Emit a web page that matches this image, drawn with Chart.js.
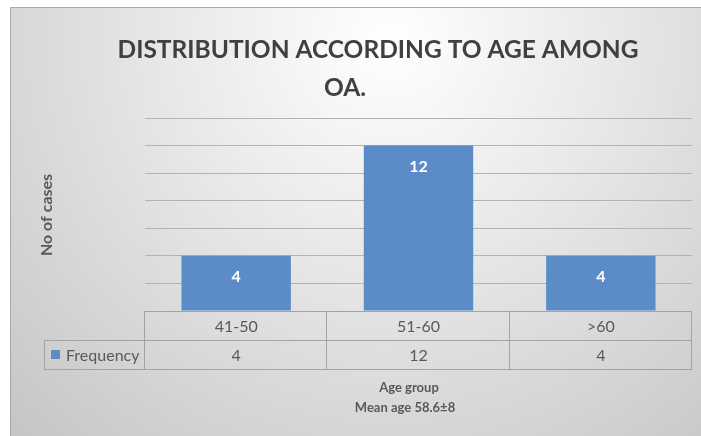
<!DOCTYPE html>
<html>
<head>
<meta charset="utf-8">
<script src="https://cdn.jsdelivr.net/npm/chart.js"></script>
<style>
  body { margin: 0; background: #fff; }
  #wrap { width: 701px; height: 436px; }
</style>
</head>
<body>
<div id="wrap"><canvas id="myChart" width="701" height="436"></canvas></div>
<script>
// data
const ageGroups = ['41-50', '51-60', '>60'];
const frequency = [4, 12, 4];
const seriesName = 'Frequency';
const titleLines = ['DISTRIBUTION ACCORDING TO AGE AMONG', 'OA.'];
const yTitle = 'No of cases';
const xTitles = ['Age group', 'Mean age 58.6\u00b18'];

const barColor = '#5b8cc8';
const textGray = '#595959';
const lineGray = '#a3a3a3';
const font = 'Lato, "Open Sans", sans-serif';

const decor = {
  id: 'decor',
  beforeDraw(chart) {
    const c = chart.ctx;
    c.save();
    c.fillStyle = '#fff';
    c.fillRect(0, 0, chart.width, chart.height);
    const g = c.createRadialGradient(390, 40, 0, 390, 40, 560);
    g.addColorStop(0, '#ffffff');
    g.addColorStop(0.35, '#ebebeb');
    g.addColorStop(1, '#c4c4c4');
    c.fillStyle = g;
    c.fillRect(10, 7, chart.width - 10, chart.height - 7);
    c.strokeStyle = '#a8a8a8';
    c.lineWidth = 1;
    c.beginPath();
    c.moveTo(10.5, chart.height);
    c.lineTo(10.5, 7.5);
    c.lineTo(chart.width, 7.5);
    c.stroke();
    c.restore();
  },
  afterDatasetsDraw(chart) {
    const c = chart.ctx;
    const meta = chart.getDatasetMeta(0);
    c.save();
    c.fillStyle = '#fff';
    c.font = 'bold 16px ' + font;
    c.textAlign = 'center';
    c.textBaseline = 'middle';
    meta.data.forEach(function (bar, i) {
      c.fillText(frequency[i], bar.x, bar.y + 21);
    });
    c.restore();
  },
  afterDraw(chart) {
    const c = chart.ctx;
    const area = chart.chartArea;
    const xs = chart.scales.x;
    const colW = (area.right - area.left) / ageGroups.length;
    const top = area.bottom;
    const rowH = 29;
    const legLeft = 44;

    c.save();
    // table lines
    c.strokeStyle = lineGray;
    c.lineWidth = 1;
    c.beginPath();
    c.moveTo(area.left, top + 0.5);
    c.lineTo(area.right, top + 0.5);
    c.moveTo(legLeft, top + rowH + 0.5);
    c.lineTo(area.right, top + rowH + 0.5);
    c.moveTo(legLeft, top + 2 * rowH + 0.5);
    c.lineTo(area.right, top + 2 * rowH + 0.5);
    c.moveTo(legLeft + 0.5, top + rowH);
    c.lineTo(legLeft + 0.5, top + 2 * rowH);
    for (let i = 0; i <= ageGroups.length; i++) {
      const x = Math.round(area.left + i * colW) - 0.5;
      c.moveTo(x, top);
      c.lineTo(x, top + 2 * rowH);
    }
    c.stroke();

    // table text
    c.fillStyle = textGray;
    c.font = '16px ' + font;
    c.textAlign = 'center';
    c.textBaseline = 'middle';
    ageGroups.forEach(function (lab, i) {
      const x = xs.getPixelForValue(i);
      c.fillText(lab, x, top + rowH / 2 + 1);
      c.fillText(frequency[i], x, top + rowH * 1.5 + 1);
    });
    c.fillStyle = barColor;
    c.fillRect(51, top + rowH + 10, 9, 9);
    c.fillStyle = textGray;
    c.textAlign = 'left';
    c.fillText(seriesName, 66, top + rowH * 1.5 + 1);

    // chart title
    c.fillStyle = '#404040';
    c.font = 'bold 24.5px ' + font;
    c.textAlign = 'center';
    c.fillText(titleLines[0], 378, 50);
    c.fillText(titleLines[1], 345, 88);

    // axis titles
    c.fillStyle = textGray;
    c.font = 'bold 13px ' + font;
    c.fillText(xTitles[0], 409, 388);
    c.fillText(xTitles[1], 405, 408);

    c.translate(47, 215);
    c.rotate(-Math.PI / 2);
    c.font = 'bold 16px ' + font;
    c.fillText(yTitle, 0, 0);
    c.restore();
  }
};

const ctx = document.getElementById('myChart');

new Chart(ctx, {
  type: 'bar',
  data: {
    labels: ageGroups,
    datasets: [{
      label: seriesName,
      data: frequency,
      backgroundColor: barColor,
      borderWidth: 0,
      categoryPercentage: 1,
      barPercentage: 0.6
    }]
  },
  options: {
    responsive: false,
    animation: false,
    layout: {
      padding: { left: 145, right: 9, top: 118, bottom: 125 }
    },
    plugins: {
      legend: { display: false },
      tooltip: { enabled: false }
    },
    scales: {
      x: { display: false },
      y: {
        min: 0,
        max: 14,
        ticks: { display: false, stepSize: 2 },
        border: { display: false },
        grid: { color: '#b3b3b3', drawTicks: false, lineWidth: 1 }
      }
    }
  },
  plugins: [decor]
});
</script>
</body>
</html>
